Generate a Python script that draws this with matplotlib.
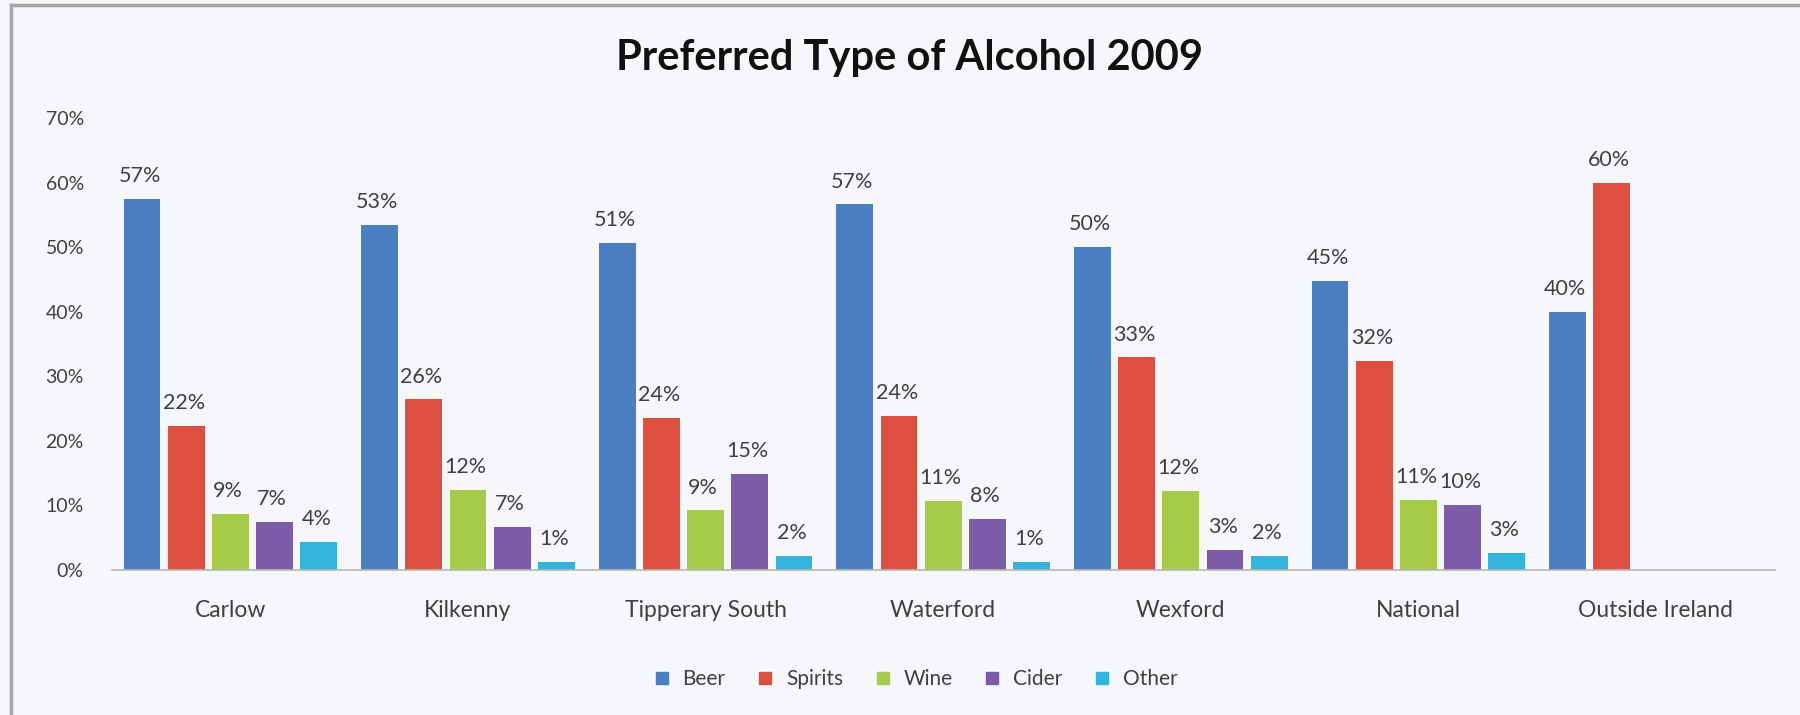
"""Grouped bar chart: preferred type of alcohol by region, 2009."""

import numpy as np
import matplotlib

matplotlib.use("Agg")
import matplotlib.pyplot as plt
from matplotlib.lines import Line2D
from matplotlib.ticker import FuncFormatter

plt.rcParams["font.family"] = ["Lato", "DejaVu Sans"]

regions = ["Carlow", "Kilkenny", "Tipperary South", "Waterford",
           "Wexford", "National", "Outside Ireland"]
drinks = ["Beer", "Spirits", "Wine", "Cider", "Other"]

beer = [0.574, 0.534, 0.506, 0.566, 0.500, 0.447, 0.400]
spirits = [0.223, 0.264, 0.236, 0.238, 0.329, 0.324, 0.600]
wine = [0.086, 0.124, 0.092, 0.107, 0.122, 0.108, 0.0]
cider = [0.074, 0.066, 0.148, 0.079, 0.031, 0.100, 0.0]
other = [0.043, 0.012, 0.021, 0.012, 0.022, 0.026, 0.0]

colors = ["#4a7fc1", "#df4f3f", "#a5cb48", "#7c5ca8", "#33b4df"]
bg = "#f5f7fa"

series = [beer, spirits, wine, cider, other]

fig = plt.figure(figsize=(18, 7.15), dpi=100, facecolor=bg)
ax = fig.add_axes([0.062, 0.203, 0.924, 0.632])
ax.set_facecolor(bg)

x = np.arange(len(regions))
pitch = 0.186
width = 0.155
for i, (name, vals, col) in enumerate(zip(drinks, series, colors)):
    pos = x + (i - 2) * pitch
    ax.bar(pos, vals, width=width, color=col, label=name, zorder=2)
    for px, v in zip(pos, vals):
        if v > 0:
            ax.text(px - 0.01, v + 0.02, f"{v:.0%}", ha="center", va="bottom",
                    fontsize=15.5, color="#404040")

ax.set_xlim(-0.5, len(regions) - 0.5)
ax.set_ylim(0, 0.7)
ax.set_yticks(np.arange(0, 0.71, 0.1))
ax.yaxis.set_major_formatter(FuncFormatter(lambda v, _: f"{v:.0%}"))
ax.set_xticks(x)
ax.set_xticklabels(regions)
ax.tick_params(axis="both", length=0, colors="#404040")
ax.tick_params(axis="x", pad=22, labelsize=16.5)
ax.tick_params(axis="y", pad=20, labelsize=14)
for s in ["top", "right", "left"]:
    ax.spines[s].set_visible(False)
ax.spines["bottom"].set_color("#b8b8b8")
ax.spines["bottom"].set_linewidth(1.2)

fig.suptitle("Preferred Type of Alcohol 2009", x=0.505, y=0.945,
             fontsize=30, fontweight="bold", color="#111111")

handles = [Line2D([], [], marker="s", linestyle="none", markersize=8,
                  markerfacecolor=c, markeredgecolor=c) for c in colors]
fig.legend(handles, drinks, loc="center", bbox_to_anchor=(0.505, 0.05),
           ncol=5, frameon=False, fontsize=15, handletextpad=0.0,
           columnspacing=0.9, labelcolor="#404040")

# frame lines on the top and left edge
fig.add_artist(Line2D([0.006, 1.0], [0.993, 0.993], transform=fig.transFigure,
                      color="#a9a4a6", linewidth=2.5))
fig.add_artist(Line2D([0.006, 0.006], [0.0, 0.993], transform=fig.transFigure,
                      color="#a9a4a6", linewidth=2.5))

fig.savefig("out.png", dpi=100, facecolor=bg)
